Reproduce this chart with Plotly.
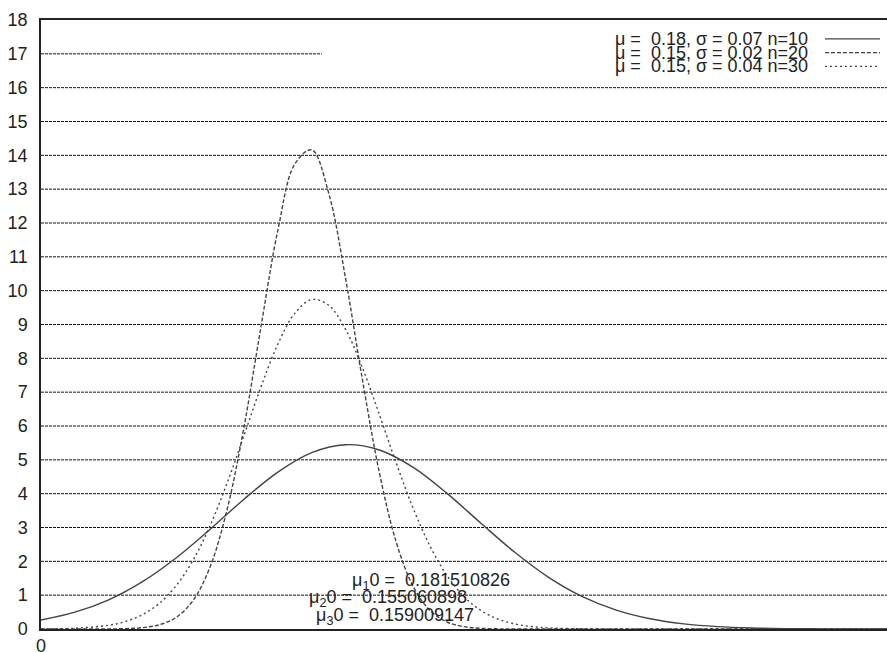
import plotly.graph_objects as go

# ---- data ----
x1 = [0.00, 0.02, 0.04, 0.06, 0.08, 0.10, 0.12, 0.14, 0.16, 0.18, 0.20, 0.22, 0.24,
      0.26, 0.28, 0.30, 0.32, 0.34, 0.36, 0.38, 0.40, 0.42, 0.44, 0.46, 0.48, 0.50]
y1 = [0.265, 0.497, 0.864, 1.400, 2.107, 2.950, 3.837, 4.639, 5.214, 5.448, 5.291, 4.777, 4.008,
      3.127, 2.268, 1.528, 0.957, 0.558, 0.302, 0.152, 0.071, 0.031, 0.0125, 0.0047, 0.0016, 0.0005]

x2 = [0.00, 0.04, 0.05, 0.06, 0.07, 0.08, 0.09, 0.10, 0.11, 0.12, 0.13, 0.14, 0.15, 0.16,
      0.17, 0.18, 0.19, 0.20, 0.21, 0.22, 0.23, 0.24, 0.25, 0.26, 0.27, 0.28, 0.50]
y2 = [0.0, 0.0028, 0.011, 0.040, 0.125, 0.347, 0.851, 1.845, 3.532, 5.975, 8.929, 11.787, 13.745, 14.160,
      12.888, 10.361, 7.359, 4.617, 2.558, 1.253, 0.542, 0.207, 0.070, 0.021, 0.0055, 0.0013, 0.0]

x3 = [0.00, 0.02, 0.04, 0.05, 0.06, 0.07, 0.08, 0.09, 0.10, 0.11, 0.12, 0.13, 0.14, 0.15, 0.16,
      0.17, 0.18, 0.19, 0.20, 0.21, 0.22, 0.23, 0.24, 0.25, 0.26, 0.27, 0.28, 0.29, 0.30, 0.32, 0.34, 0.50]
y3 = [0.0036, 0.0226, 0.111, 0.224, 0.426, 0.763, 1.287, 2.046, 3.062, 4.314, 5.725, 7.155, 8.420, 9.330, 9.737,
      9.569, 8.855, 7.717, 6.333, 4.895, 3.562, 2.441, 1.576, 0.958, 0.548, 0.296, 0.150, 0.072, 0.032, 0.0055, 0.0006, 0.0]

legend_labels = ["μ =  0.18, σ = 0.07 n=10",
                 "μ =  0.15, σ = 0.02 n=20",
                 "μ =  0.15, σ = 0.04 n=30"]
mean_labels = ["μ<sub>1</sub>0 =  0.181510826",
               "μ<sub>2</sub>0 =  0.155060898",
               "μ<sub>3</sub>0 =  0.159009147"]
mean_label_x = [0.1828, 0.1574, 0.1615]
mean_label_y = [1.40, 0.89, 0.37]

y_ticks = list(range(0, 19))
grid_levels = list(range(1, 18))

# ---- styling ----
FONT = "Liberation Sans, Arial, sans-serif"
FS = 18
CURVE_COL = "#444444"
dashes = ["solid", "4px,2px", "2px,3px"]

fig = go.Figure()
for xs, ys, d in [(x1, y1, dashes[0]), (x2, y2, dashes[1]), (x3, y3, dashes[2])]:
    fig.add_trace(go.Scatter(x=xs, y=ys, mode="lines",
                             line=dict(color=CURVE_COL, width=1.4, dash=d, shape="spline", smoothing=1.0),
                             showlegend=False, hoverinfo="skip"))

shapes = []
for g in grid_levels:
    x_end = 0.332 if g == 17 else 1.0
    shapes.append(dict(type="line", xref="paper", yref="y", x0=0, x1=x_end, y0=g, y1=g,
                       line=dict(color="#111", width=1, dash="3px,1px"), layer="below"))

# legend (key) drawn manually: text right-aligned, sample line at right
key_y = [0.9690, 0.9465, 0.9240]
annotations = []
for lab, ky, d in zip(legend_labels, key_y, dashes):
    annotations.append(dict(text=lab, xref="paper", yref="paper", x=0.909, y=ky, xanchor="right", yanchor="middle",
                            showarrow=False, font=dict(family=FONT, size=FS, color="#222")))
    shapes.append(dict(type="line", xref="paper", yref="paper", x0=0.9267, x1=0.9917, y0=ky, y1=ky,
                       line=dict(color=CURVE_COL, width=1.3, dash=d)))

for t, mx, my in zip(mean_labels, mean_label_x, mean_label_y):
    annotations.append(dict(text=t, x=mx, y=my, xref="x", yref="y", xanchor="left", yanchor="middle",
                            showarrow=False, font=dict(family=FONT, size=FS, color="#222")))

fig.update_layout(
    width=887, height=652,
    margin=dict(l=41, r=0, t=20, b=23),
    paper_bgcolor="white", plot_bgcolor="white",
    font=dict(family=FONT, size=FS, color="#222"),
    shapes=shapes, annotations=annotations,
    xaxis=dict(range=[0, 0.5], showgrid=False, zeroline=False, showline=True, mirror=True,
               linecolor="#222", linewidth=1.5, tickvals=[0], ticktext=["0"], ticks="",
               tickfont=dict(family=FONT, size=FS, color="#222"), ticklabelstandoff=0, automargin=False),
    yaxis=dict(range=[0, 18], showgrid=False, zeroline=False, showline=True, mirror=False,
               linecolor="#222", linewidth=1.5, tickvals=y_ticks, ticks="",
               tickfont=dict(family=FONT, size=FS, color="#222"), ticklabelstandoff=8, automargin=False),
)

fig.write_html("out.html", config={"displayModeBar": False},
               post_script="document.body.style.margin='0';document.body.style.overflow='hidden';")
